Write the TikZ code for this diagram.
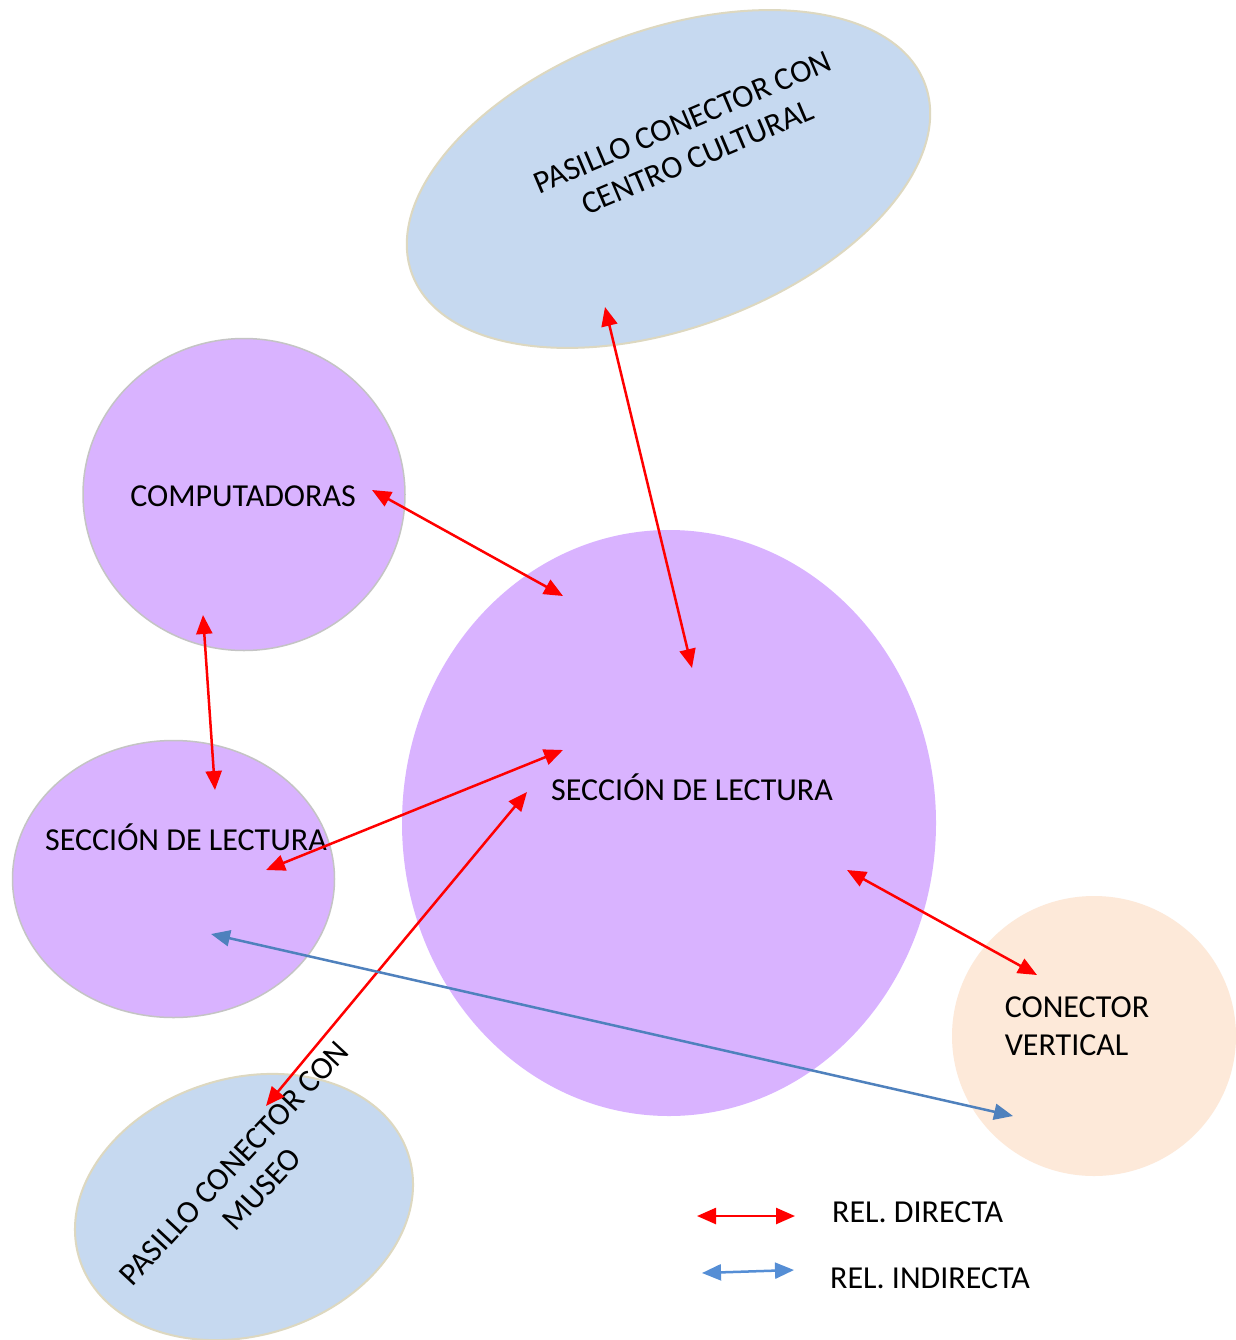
\documentclass[tikz,border=0pt]{standalone}
\usepackage{fontspec}
\setmainfont{Carlito}
\usetikzlibrary{shapes.geometric,arrows.meta}
\definecolor{lav}{HTML}{D9B3FF}
\definecolor{lavborder}{HTML}{C4C4C4}
\definecolor{skyfill}{HTML}{C6D9F0}
\definecolor{tanborder}{HTML}{DDD8C0}
\definecolor{peach}{HTML}{FDE9D9}
\definecolor{relred}{HTML}{FF0000}
\definecolor{relblue}{HTML}{4F81BD}
\definecolor{legblue}{HTML}{558ED5}
\begin{document}
\begin{tikzpicture}[x=1pt,y=-1pt,
  purpleblob/.style={ellipse,inner sep=0pt,fill=lav,draw=lavborder,line width=1.5pt},
  bigblob/.style={ellipse,inner sep=0pt,fill=lav},
  blueblob/.style={ellipse,inner sep=0pt,fill=skyfill,draw=tanborder,line width=2pt},
  peachblob/.style={ellipse,inner sep=0pt,fill=peach},
  lbl/.style={font=\fontsize{32}{38}\selectfont,inner sep=0pt,text=black},
  reddir/.style={draw=relred,line width=2.5pt,{Triangle[length=19pt,width=16pt]}-{Triangle[length=19pt,width=16pt]}},
  blueind/.style={draw=#1,line width=2.5pt,{Triangle[length=19pt,width=16pt]}-{Triangle[length=19pt,width=16pt]}}
]
\useasboundingbox (0,0) rectangle (1235,1340);
\fill[white] (0,0) rectangle (1235,1340);

% shapes
\node[blueblob,minimum width=547pt,minimum height=298pt,rotate=20.3] (cultural) at (668.5,179) {};
\node[purpleblob,minimum width=322pt,minimum height=312pt] (comp) at (244,494.5) {};
\node[purpleblob,minimum width=322pt,minimum height=277pt] (lectL) at (173.5,879) {};
\node[bigblob,minimum width=534pt,minimum height=586pt] (lectC) at (669,823) {};
\node[peachblob,minimum width=284pt,minimum height=280pt] (vert) at (1094,1036) {};
\node[blueblob,minimum width=345pt,minimum height=257pt,rotate=17.5] (museo) at (244,1207) {};

% texts
\node[lbl,align=center,rotate=23] (culturalT) at (690,140) {PASILLO CONECTOR CON\\CENTRO CULTURAL};
\node[lbl,anchor=base] (compT) at (243,506) {COMPUTADORAS};
\node[lbl,anchor=base] (lectLT) at (186,850) {SECCIÓN DE LECTURA};
\node[lbl,anchor=base] (lectCT) at (692,800) {SECCIÓN DE LECTURA};
\node[lbl,align=left] (vertT) at (1077,1026) {CONECTOR\\VERTICAL};
\node[lbl,align=center,rotate=47] (museoT) at (248,1176) {PASILLO CONECTOR CON\\MUSEO};

% connector end points
\coordinate (cultural-a) at (605,307);
\coordinate (lectC-a) at (692,668);
\coordinate (comp-a) at (372,490);
\coordinate (lectC-b) at (563,596);
\coordinate (comp-b) at (203,615);
\coordinate (lectL-a) at (215,790);
\coordinate (lectC-c) at (563,750);
\coordinate (lectL-b) at (266,870);
\coordinate (lectC-d) at (527,792);
\coordinate (museo-a) at (266,1106);
\coordinate (lectC-e) at (847,870);
\coordinate (vert-a) at (1037,975);
\coordinate (lectL-c) at (211,934);
\coordinate (vert-b) at (1013,1116);

% connectors
\draw[reddir] (cultural-a) -- (lectC-a);
\draw[reddir] (comp-a) -- (lectC-b);
\draw[reddir] (comp-b) -- (lectL-a);
\draw[reddir] (lectC-c) -- (lectL-b);
\draw[reddir] (lectC-d) -- (museo-a);
\draw[reddir] (lectC-e) -- (vert-a);
\draw[blueind=relblue] (lectL-c) -- (vert-b);

% legend
\coordinate (legR1) at (697,1216);
\coordinate (legR2) at (795,1216);
\coordinate (legB1) at (702,1273);
\coordinate (legB2) at (794,1270);
\draw[reddir] (legR1) -- (legR2);
\draw[blueind=legblue] (legB1) -- (legB2);
\node[lbl,anchor=base west] (legRT) at (832,1222) {REL. DIRECTA};
\node[lbl,anchor=base west] (legBT) at (830,1288) {REL. INDIRECTA};
\end{tikzpicture}
\end{document}
